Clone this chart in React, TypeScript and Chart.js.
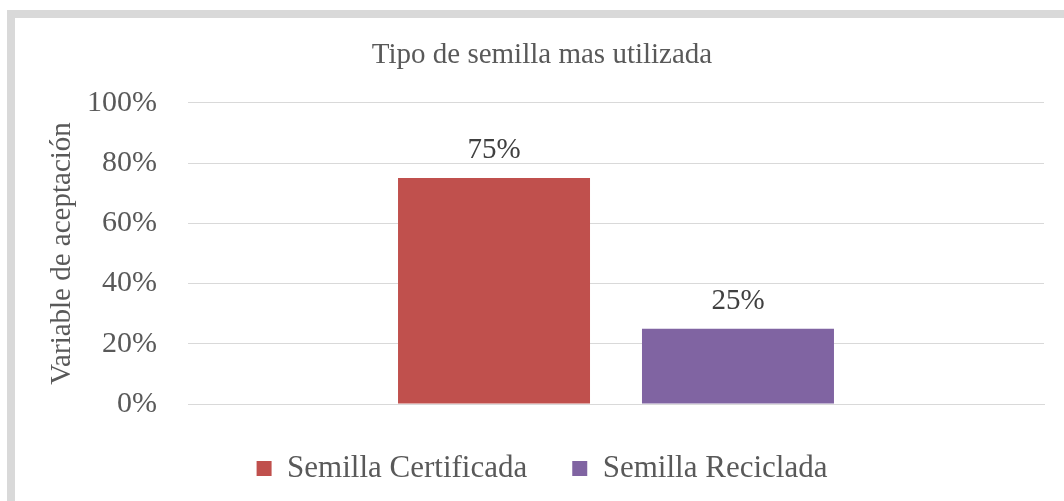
import React, { useEffect, useRef } from "react";
import { Chart, registerables } from "chart.js";

Chart.register(...registerables);

const title = "Tipo de semilla mas utilizada";
const yAxisTitle = "Variable de aceptación";
const categories = [""];
const seriesNames = ["Semilla Certificada", "Semilla Reciclada"];
const certificada = [75];
const reciclada = [25];
const seriesColors = ["#C0504D", "#8064A2"];
const yTicks = [0, 20, 40, 60, 80, 100];

const FONT = "'Liberation Serif', 'Times New Roman', serif";

const dataLabels = {
  id: "dataLabels",
  afterDatasetsDraw(chart: any) {
    const ctx = chart.ctx;
    ctx.save();
    ctx.font = `29px ${FONT}`;
    ctx.fillStyle = "#404040";
    ctx.textAlign = "center";
    ctx.textBaseline = "alphabetic";
    chart.data.datasets.forEach((ds: any, i: number) => {
      const meta = chart.getDatasetMeta(i);
      meta.data.forEach((el: any, j: number) => {
        ctx.fillText(`${ds.data[j]}%`, el.x, el.y - 20);
      });
    });
    ctx.restore();
  },
};

export default function App() {
  const ref = useRef<HTMLCanvasElement>(null);
  useEffect(() => {
    if (!ref.current) return;
    const chart = new Chart(ref.current, {
      type: "bar",
      data: {
        labels: categories,
        datasets: [
          { label: seriesNames[0], data: certificada, backgroundColor: seriesColors[0] },
          { label: seriesNames[1], data: reciclada, backgroundColor: seriesColors[1] },
        ],
      },
      options: {
        responsive: false,
        animation: false,
        devicePixelRatio: 1,
        layout: { padding: { left: 25, right: 20, top: 0, bottom: 7 } },
        datasets: { bar: { categoryPercentage: 0.57, barPercentage: 0.787 } },
        plugins: {
          tooltip: { enabled: false },
          title: {
            display: true,
            text: title,
            color: "#595959",
            font: { family: FONT, size: 29, weight: "normal" },
            padding: { top: 20, bottom: 30 },
          },
          legend: {
            position: "bottom",
            labels: {
              color: "#595959",
              font: { family: FONT, size: 31 },
              boxWidth: 15,
              boxHeight: 15,
              padding: 45,
            },
          },
        },
        scales: {
          x: {
            display: true,
            ticks: { display: false },
            grid: { display: false, drawTicks: false },
            border: { display: true, color: "#D9D9D9", width: 1 },
            afterFit(scale: any) {
              scale.height = 4;
            },
          },
          y: {
            min: 0,
            max: 100,
            afterBuildTicks(scale: any) {
              scale.ticks = yTicks.map((v) => ({ value: v }));
            },
            ticks: {
              color: "#595959",
              font: { family: FONT, size: 30 },
              padding: 31,
              callback: (v: any) => `${v}%`,
            },
            grid: { color: "#D9D9D9", drawTicks: false },
            border: { display: false },
            title: {
              display: true,
              text: yAxisTitle,
              color: "#595959",
              font: { family: FONT, size: 29, weight: "normal" },
              padding: { top: 5, bottom: 0 },
            },
            afterFit(scale: any) {
              scale.width = 148;
            },
          },
        },
      },
      plugins: [dataLabels],
    });
    return () => chart.destroy();
  }, []);

  return (
    <div style={{ position: "absolute", left: 0, top: 0, width: 1064, height: 501, overflow: "hidden", background: "#fff" }}>
      <div
        style={{
          position: "absolute",
          left: 7,
          top: 10,
          width: 1200,
          height: 700,
          borderTop: "8px solid #D9D9D9",
          borderLeft: "8px solid #D9D9D9",
          boxSizing: "border-box",
        }}
      />
      <canvas
        ref={ref}
        width={1049}
        height={483}
        style={{ position: "absolute", left: 15, top: 18, width: 1049, height: 483 }}
      />
    </div>
  );
}
